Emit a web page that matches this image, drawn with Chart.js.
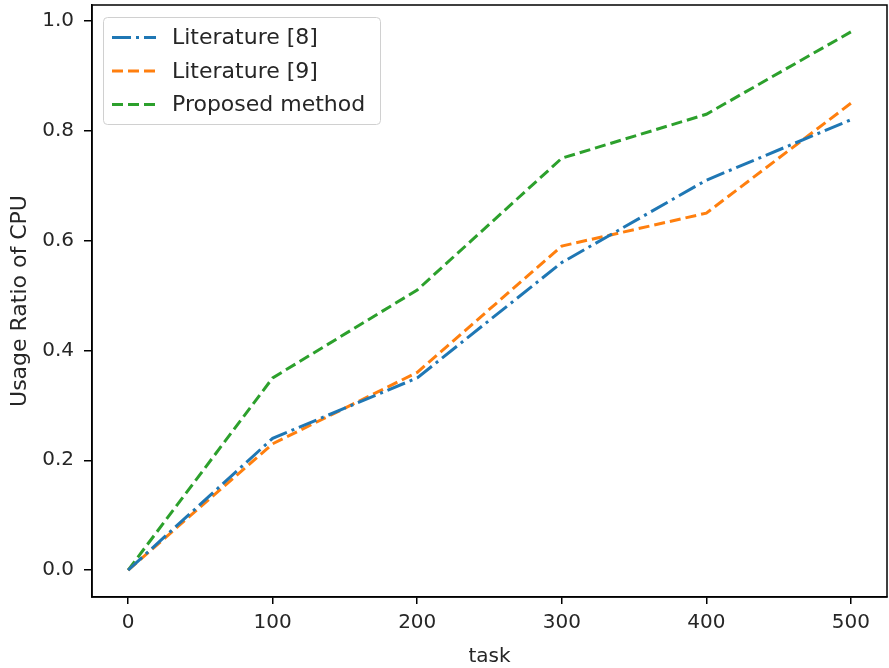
<!DOCTYPE html>
<html>
<head>
<meta charset="utf-8">
<script src="https://cdn.jsdelivr.net/npm/chart.js@4/dist/chart.umd.min.js"></script>
<style>
  html, body { margin: 0; padding: 0; background: #fff; }
  #wrap { width: 889px; height: 668px; }
</style>
</head>
<body>
<div id="wrap"><canvas id="myChart" width="889" height="668"></canvas></div>
<script>
var tasks = [0, 100, 200, 300, 400, 500];
var lit8 = [0, 0.24, 0.35, 0.56, 0.71, 0.82];
var lit9 = [0, 0.23, 0.36, 0.59, 0.65, 0.85];
var proposed = [0, 0.35, 0.51, 0.75, 0.83, 0.98];
var xTicks = [0, 100, 200, 300, 400, 500];
var yTicks = [0, 0.2, 0.4, 0.6, 0.8, 1.0];

function pts(ys) {
    return tasks.map(function(t, i) { return { x: t, y: ys[i] }; });
}

// frame around the plot area (matplotlib spines)
var frame = {
    id: 'frame',
    afterDraw: function(chart) {
        var a = chart.chartArea, c = chart.ctx;
        c.save();
        c.strokeStyle = '#000';
        c.lineWidth = 1.5;
        c.strokeRect(a.left, a.top, a.right - a.left, a.bottom - a.top);
        c.restore();
    }
};

// legend drawn inside the plot, matplotlib style
var boxLegend = {
    id: 'boxLegend',
    afterDatasetsDraw: function(chart) {
        var c = chart.ctx;
        var x0 = 103, y0 = 17, w = 277, h = 107;
        c.save();
        c.fillStyle = 'rgba(255,255,255,0.8)';
        c.strokeStyle = '#d0d0d0';
        c.lineWidth = 1;
        c.beginPath();
        c.roundRect(x0 + 0.5, y0 + 0.5, w, h, 4);
        c.fill();
        c.stroke();
        c.font = '22px "DejaVu Sans"';
        c.textBaseline = 'middle';
        chart.data.datasets.forEach(function(ds, i) {
            var y = 37.5 + i * 33.5;
            c.strokeStyle = ds.borderColor;
            c.lineWidth = 3;
            c.setLineDash(ds.borderDash);
            c.beginPath();
            c.moveTo(112, y);
            c.lineTo(156, y);
            c.stroke();
            c.setLineDash([]);
            c.fillStyle = '#262626';
            c.fillText(ds.label, 172, y + 1);
        });
        c.restore();
    }
};

var ctx = document.getElementById('myChart').getContext('2d');
var chart = new Chart(ctx, {
    type: 'line',
    data: {
        datasets: [
            { label: 'Literature [8]', data: pts(lit8), borderColor: '#1f77b4', borderDash: [19, 5, 3, 5] },
            { label: 'Literature [9]', data: pts(lit9), borderColor: '#ff7f0e', borderDash: [11, 5] },
            { label: 'Proposed method', data: pts(proposed), borderColor: '#2ca02c', borderDash: [11, 5] }
        ]
    },
    options: {
        responsive: false,
        animation: false,
        layout: { padding: { top: 5, right: 2, left: 0, bottom: 0 } },
        elements: {
            line: { borderWidth: 3, tension: 0, fill: false },
            point: { radius: 0 }
        },
        plugins: { legend: { display: false }, tooltip: { enabled: false } },
        scales: {
            x: {
                type: 'linear',
                min: -25,
                max: 525,
                afterBuildTicks: function(axis) { axis.ticks = xTicks.map(function(v) { return { value: v }; }); },
                afterFit: function(axis) { axis.height = 71; axis.paddingLeft = 0; axis.paddingRight = 0; },
                grid: { drawOnChartArea: false, drawTicks: true, tickLength: 7, color: '#000', lineWidth: 1.5 },
                border: { color: '#000', width: 1.5 },
                ticks: { color: '#262626', font: { family: 'DejaVu Sans', size: 20 }, padding: 7, maxRotation: 0 },
                title: { display: true, text: 'task', color: '#262626', font: { family: 'DejaVu Sans', size: 20 }, padding: { top: 0, bottom: -1 } }
            },
            y: {
                min: -0.049,
                max: 1.029,
                afterBuildTicks: function(axis) { axis.ticks = yTicks.map(function(v) { return { value: v }; }); },
                afterFit: function(axis) { axis.width = 92; axis.paddingTop = 0; axis.paddingBottom = 0; },
                grid: { drawOnChartArea: false, drawTicks: true, tickLength: 8, color: '#000', lineWidth: 1.5 },
                border: { color: '#000', width: 1.5 },
                ticks: {
                    color: '#262626', font: { family: 'DejaVu Sans', size: 20 }, padding: 10,
                    callback: function(v) { return v.toFixed(1); }
                },
                title: { display: true, text: 'Usage Ratio of CPU', color: '#262626', font: { family: 'DejaVu Sans', size: 22 }, padding: { top: 7, bottom: 0 } }
            }
        }
    },
    plugins: [boxLegend, frame]
});
</script>
</body>
</html>
